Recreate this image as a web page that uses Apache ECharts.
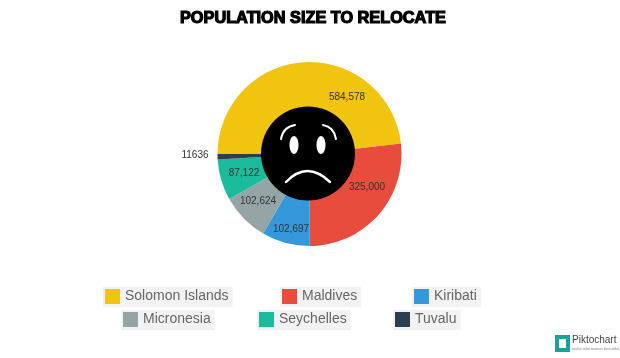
<!DOCTYPE html>
<html>
<head>
<meta charset="utf-8">
<style>
  html, body { margin: 0; padding: 0; background: #fff; }
  #chart { width: 620px; height: 358px; }
</style>
<script src="https://cdn.jsdelivr.net/npm/echarts@6/dist/echarts.min.js"></script>
</head>
<body>
<div id="chart"></div>
<script>
// data
const countries = ['Solomon Islands', 'Maldives', 'Kiribati', 'Micronesia', 'Seychelles', 'Tuvalu'];
const population = [584578, 325000, 102697, 102624, 87122, 11636];
const valueLabels = ['584,578', '325,000', '102,697', '102,624', '87,122', '11636'];
const colors = ['#f1c40f', '#e74c3c', '#3498db', '#95a5a6', '#1abc9c', '#2c3e50'];

// where the labels and legend boxes sit
const labelSpots = [[347, 97], [367, 187], [291, 229], [258, 201], [244, 173], [195, 155]];
const legendSpots = [[103, 287], [280, 287], [412, 287], [121, 310], [257, 310], [393, 310]];

const chart = echarts.init(document.getElementById('chart'));

// white strokes of the sad face
function faceLine(x1, y1, cpx1, cpy1, x2, y2, width) {
  return {
    type: 'bezierCurve',
    z: 12,
    shape: { x1: x1, y1: y1, cpx1: cpx1, cpy1: cpy1, x2: x2, y2: y2 },
    style: { stroke: '#fff', lineWidth: width, fill: null, lineCap: 'round' }
  };
}

const option = {
  backgroundColor: '#fff',
  animation: false,
  color: colors,
  title: {
    text: 'POPULATION SIZE TO RELOCATE',
    left: 180,
    top: 11,
    textStyle: {
      fontFamily: 'Liberation Sans',
      fontSize: 16.3,
      fontWeight: 'bold',
      color: '#000',
      textBorderColor: '#000',
      textBorderWidth: 1.2
    },
    padding: 0
  },
  legend: countries.map((name, i) => ({
    data: [name],
    left: legendSpots[i][0],
    top: legendSpots[i][1],
    orient: 'horizontal',
    icon: 'rect',
    selectedMode: false,
    itemWidth: 15,
    itemHeight: 15,
    itemGap: 0,
    padding: [2, 4, 3, 2],
    backgroundColor: '#f2f2f2',
    textStyle: { fontFamily: 'Liberation Sans', fontSize: 14, color: '#666' }
  })),
  series: [{
    type: 'pie',
    center: [309.5, 154],
    radius: [40, 92],
    startAngle: 180,
    clockwise: true,
    avoidLabelOverlap: false,
    silent: true,
    data: countries.map((name, i) => ({ name: name, value: population[i] })),
    label: {
      show: true,
      position: 'inside',
      fontFamily: 'Liberation Sans',
      fontSize: 10,
      color: '#333',
      formatter: (p) => valueLabels[p.dataIndex]
    },
    labelLine: { show: false },
    labelLayout: (p) => ({
      x: labelSpots[p.dataIndex][0],
      y: labelSpots[p.dataIndex][1],
      align: 'center',
      verticalAlign: 'middle'
    })
  }],
  graphic: [
    // face
    { type: 'circle', z: 10, shape: { cx: 308, cy: 153.5, r: 47 }, style: { fill: '#000' } },
    { type: 'ellipse', z: 12, shape: { cx: 294, cy: 145, rx: 4.5, ry: 9 }, style: { fill: '#fff' } },
    { type: 'ellipse', z: 12, shape: { cx: 321, cy: 145, rx: 4.5, ry: 9 }, style: { fill: '#fff' } },
    faceLine(281, 139, 283, 127, 295, 125, 2),
    faceLine(336, 139, 334, 127, 323, 125, 2),
    faceLine(286, 182, 307, 160, 330, 182, 2.5),
    // Piktochart mark
    { type: 'rect', z: 5, shape: { x: 555, y: 335, width: 15, height: 17 }, style: { fill: '#1f9e9a' } },
    { type: 'rect', z: 6, shape: { x: 559, y: 339, width: 7, height: 9 }, style: { fill: '#fff' } },
    { type: 'text', z: 5, style: { x: 572, y: 335, text: 'Piktochart', fontFamily: 'Liberation Sans', fontSize: 10, fill: '#444' } },
    { type: 'text', z: 5, style: { x: 572, y: 347, text: 'make information beautiful', fontFamily: 'Liberation Sans', fontSize: 4, fill: '#888' } }
  ]
};

chart.setOption(option);
</script>
</body>
</html>
